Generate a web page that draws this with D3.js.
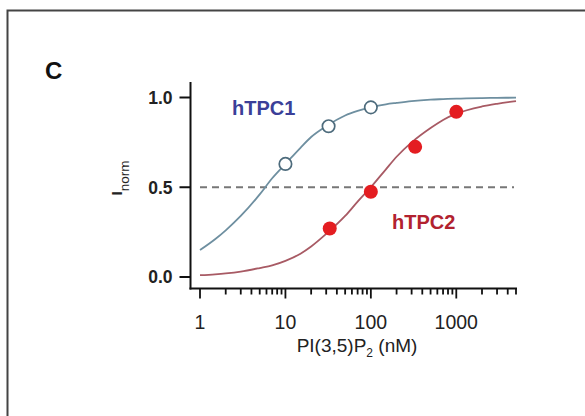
<!DOCTYPE html>
<html>
<head>
<meta charset="utf-8">
<script src="https://cdn.jsdelivr.net/npm/d3@7"></script>
<style>
  body { margin: 0; background: #fff; }
  svg { display: block; }
</style>
</head>
<body>
<div id="chart"></div>
<script>
// measured points
const tpc1X = [10, 32, 100];
const tpc1Y = [0.63, 0.84, 0.945];
const tpc2X = [33, 100, 330, 1000];
const tpc2Y = [0.27, 0.475, 0.725, 0.92];

// fitted curves
const fitX  = [1, 1.5, 2, 3, 5, 7, 10, 15, 20, 30, 50, 70, 100, 150, 200, 300, 500, 700, 1000, 2000, 3000, 5000];
const fit1Y = [0.15, 0.21, 0.26, 0.34, 0.46, 0.55, 0.63, 0.72, 0.78, 0.84, 0.90, 0.925, 0.945, 0.962, 0.97, 0.98, 0.988, 0.991, 0.994, 0.997, 0.998, 0.999];
const fit2Y = [0.01, 0.015, 0.02, 0.03, 0.05, 0.065, 0.09, 0.13, 0.17, 0.24, 0.34, 0.42, 0.50, 0.60, 0.67, 0.75, 0.83, 0.875, 0.91, 0.95, 0.965, 0.98];

const yTicks = [0, 0.5, 1.0];
const xMajor = [1, 10, 100, 1000];

const width = 585, height = 416;
const font = 'Liberation Sans, Arial, sans-serif';

const svg = d3.select('#chart')
    .append('svg')
        .attr('width', width)
        .attr('height', height);

// panel frame (only top + left edges show)
svg.append('path')
    .attr('d', 'M7.5,416 V10.5 H585')
    .attr('fill', 'none')
    .attr('stroke', '#444')
    .attr('stroke-width', 2);

// panel letter
svg.append('text')
    .attr('x', 45).attr('y', 79)
    .style('font-family', font)
    .style('font-weight', 'bold')
    .style('font-size', '24px')
    .style('fill', '#111')
    .text('C');

// scales
const x = d3.scaleLog().domain([1, 5000]).range([200, 516]);
const y = d3.scaleLinear().domain([0, 1]).range([277, 97.5]);

const axisX0 = 190.5, axisY0 = 288.5;

// y axis
svg.append('line')
    .attr('x1', axisX0).attr('x2', axisX0)
    .attr('y1', 82).attr('y2', axisY0 + 1)
    .attr('stroke', '#111').attr('stroke-width', 2);

const yt = svg.append('g').selectAll('g')
    .data(yTicks)
    .enter().append('g')
        .attr('transform', d => 'translate(0,' + y(d) + ')');
yt.append('line')
    .attr('x1', axisX0 - 11).attr('x2', axisX0)
    .attr('stroke', '#111').attr('stroke-width', 2);
yt.append('text')
    .attr('x', axisX0 - 18).attr('dy', '0.36em')
    .attr('text-anchor', 'end')
    .style('font-family', font)
    .style('font-weight', 'bold')
    .style('font-size', '17.5px')
    .style('fill', '#222')
    .text(d => d3.format('.1f')(d));

// x axis
svg.append('line')
    .attr('x1', axisX0 - 1).attr('x2', 517)
    .attr('y1', axisY0).attr('y2', axisY0)
    .attr('stroke', '#111').attr('stroke-width', 2);

const xTicksAll = x.ticks();
svg.append('g').selectAll('line')
    .data(xTicksAll)
    .enter().append('line')
        .attr('x1', d => x(d)).attr('x2', d => x(d))
        .attr('y1', axisY0)
        .attr('y2', d => xMajor.includes(d) ? axisY0 + 10 : axisY0 + 6)
        .attr('stroke', '#111').attr('stroke-width', 1.8);

svg.append('g').selectAll('text')
    .data(xMajor)
    .enter().append('text')
        .attr('x', d => x(d)).attr('y', 329)
        .attr('text-anchor', 'middle')
        .style('font-family', font)
        .style('font-size', '19.5px')
        .style('fill', '#222')
        .text(d => d);

// axis titles
const xl = svg.append('text')
    .attr('x', 357).attr('y', 352)
    .attr('text-anchor', 'middle')
    .style('font-family', font)
    .style('font-size', '19px')
    .style('fill', '#222');
xl.append('tspan').text('PI(3,5)P');
xl.append('tspan').attr('dy', 5).style('font-size', '12px').text('2');
xl.append('tspan').attr('dy', -5).text(' (nM)');

const yl = svg.append('text')
    .attr('transform', 'translate(122,178) rotate(-90)')
    .attr('text-anchor', 'middle')
    .style('font-family', font)
    .style('font-size', '15px')
    .style('fill', '#222');
yl.append('tspan').style('font-weight', 'bold').text('I');
yl.append('tspan').attr('dy', 7).style('font-size', '13.5px').text('norm');

// half-max reference
svg.append('line')
    .attr('x1', x(1)).attr('x2', 514)
    .attr('y1', y(0.5)).attr('y2', y(0.5))
    .attr('stroke', '#777').attr('stroke-width', 1.8)
    .attr('stroke-dasharray', '7,5');

// fitted curves
const line = d3.line()
    .x(d => x(d[0]))
    .y(d => y(d[1]))
    .curve(d3.curveMonotoneX);

svg.append('path')
    .datum(fitX.map((v, i) => [v, fit1Y[i]]))
    .attr('d', line)
    .attr('fill', 'none')
    .attr('stroke', '#6e8fa0')
    .attr('stroke-width', 1.8);

svg.append('path')
    .datum(fitX.map((v, i) => [v, fit2Y[i]]))
    .attr('d', line)
    .attr('fill', 'none')
    .attr('stroke', '#a85a64')
    .attr('stroke-width', 1.8);

// points
svg.append('g').selectAll('circle')
    .data(tpc1X.map((v, i) => [v, tpc1Y[i]]))
    .enter().append('circle')
        .attr('cx', d => x(d[0])).attr('cy', d => y(d[1]))
        .attr('r', 6.2)
        .attr('fill', '#fff')
        .attr('stroke', '#4d6b7c')
        .attr('stroke-width', 1.7);

svg.append('g').selectAll('circle')
    .data(tpc2X.map((v, i) => [v, tpc2Y[i]]))
    .enter().append('circle')
        .attr('cx', d => x(d[0])).attr('cy', d => y(d[1]))
        .attr('r', 7)
        .attr('fill', '#e41d21');

// series labels
svg.append('text')
    .attr('x', 232).attr('y', 115)
    .style('font-family', font)
    .style('font-weight', 'bold')
    .style('font-size', '20px')
    .style('fill', '#3b3f98')
    .text('hTPC1');

svg.append('text')
    .attr('x', 392).attr('y', 229)
    .style('font-family', font)
    .style('font-weight', 'bold')
    .style('font-size', '20px')
    .style('fill', '#b2222f')
    .text('hTPC2');
</script>
</body>
</html>
